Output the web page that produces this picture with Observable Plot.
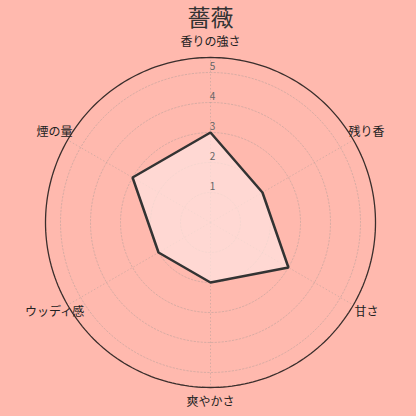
<!DOCTYPE html>
<html><head><meta charset="utf-8">
<script src="https://cdn.jsdelivr.net/npm/d3@7"></script>
<script src="https://cdn.jsdelivr.net/npm/@observablehq/plot@0.6"></script>
<style>
html,body{margin:0;padding:0;background:#ffb9ae;}
svg{display:block;}
</style></head>
<body><div id="chart"></div>
<script>
const title = "薔薇";
const axes = ["香りの強さ", "残り香", "甘さ", "爽やかさ", "ウッディ感", "煙の量"];
const values = [3, 2, 3, 2, 2, 3];
const ticks = [1, 2, 3, 4, 5];
const maxValue = 5.5;

const n = axes.length;
const ang = i => (2 * Math.PI * i) / n;
const px = (r, a) => r * Math.sin(a);
const py = (r, a) => r * Math.cos(a);

const poly = values.map((v, i) => ({x: px(v, ang(i)), y: py(v, ang(i))}));
const ringPts = [];
for (const t of ticks) for (let k = 0; k < 180; k++) {
  const a = (2 * Math.PI * k) / 180;
  ringPts.push({ring: t, x: px(t, a), y: py(t, a)});
}
const outerPts = d3.range(240).map(k => {const a = 2*Math.PI*k/240; return {x: px(maxValue, a), y: py(maxValue, a)};});
const spokes = axes.map((d, i) => ({x1: 0, y1: 0, x2: px(maxValue, ang(i)), y2: py(maxValue, ang(i))}));
const labels = axes.map((d, i) => ({label: d, x: px(6, ang(i)), y: py(6, ang(i))}));
const tickLabels = ticks.map(t => ({t, x: 0.07, y: t + 0.2}));

const chart = Plot.plot({
  width: 416, height: 416,
  margin: 0,
  x: {domain: [-7, 206/30], axis: null},
  y: {domain: [-194/30, 222/30], axis: null},
  style: {background: "#ffb9ae", fontFamily: "'Noto Sans CJK JP', 'Noto Sans', sans-serif"},
  marks: [
    Plot.line(ringPts, {x: "x", y: "y", z: "ring", curve: "linear-closed", stroke: "#b8a09a", strokeOpacity: 0.55, strokeWidth: 1, strokeDasharray: "1.5,2"}),
    Plot.link(spokes, {x1: "x1", y1: "y1", x2: "x2", y2: "y2", stroke: "#b8a09a", strokeOpacity: 0.55, strokeWidth: 1, strokeDasharray: "1.5,2"}),
    Plot.line(outerPts, {x: "x", y: "y", curve: "linear-closed", stroke: "#3a2e2c", strokeWidth: 1.3}),
    Plot.line(poly, {x: "x", y: "y", curve: "linear-closed", fill: "#ffe3df", fillOpacity: 0.75, stroke: "#333333", strokeWidth: 2.5, strokeLinejoin: "miter"}),
    Plot.text(tickLabels, {x: "x", y: "y", text: d => String(d.t), fill: "#666", fontSize: 10, textAnchor: "middle"}),
    Plot.text(labels, {x: "x", y: "y", text: "label", fill: "#222", fontSize: 12}),
    Plot.text([title], {x: 0, y: (222-18)/30, text: d => d, fill: "#333", fontSize: 23})
  ]
});
document.getElementById("chart").appendChild(chart);
</script></body></html>
